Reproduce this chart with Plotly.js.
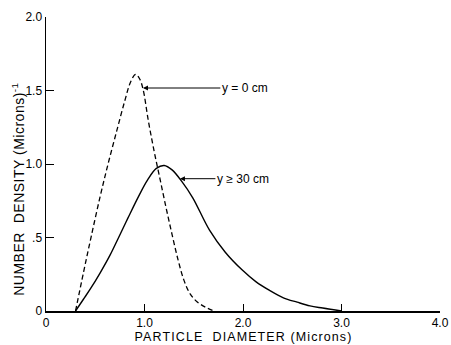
<!DOCTYPE html>
<html>
<head>
<meta charset="utf-8">
<script src="https://cdn.plot.ly/plotly-3.0.1.min.js"></script>
<style>
html,body{margin:0;padding:0;background:#fff;}
#chart{width:451px;height:345px;}
#chart g.annotation[data-index="0"] text{letter-spacing:0.5px;}
#chart g.annotation[data-index="1"] text{letter-spacing:1.1px;}
</style>
</head>
<body>
<div id="chart"></div>
<script>
// Particle diameter (microns) and number density for y = 0 cm (dashed)
const diamY0 = [0.30, 0.38, 0.46, 0.55, 0.63, 0.72, 0.80, 0.86, 0.91, 0.95, 0.985, 1.04, 1.10, 1.16, 1.22, 1.28, 1.34, 1.40, 1.46, 1.53, 1.62, 1.71];
const densY0 = [0.00, 0.26, 0.51, 0.78, 1.00, 1.23, 1.43, 1.56, 1.61, 1.58, 1.51, 1.29, 1.08, 0.89, 0.70, 0.52, 0.35, 0.21, 0.12, 0.065, 0.025, 0.00];
// y >= 30 cm (solid)
const diamY30 = [0.30, 0.38, 0.45, 0.55, 0.65, 0.73, 0.83, 0.94, 1.03, 1.12, 1.20, 1.28, 1.38, 1.49, 1.66, 1.82, 1.99, 2.13, 2.27, 2.41, 2.55, 2.68, 2.81, 3.00];
const densY30 = [0.00, 0.08, 0.15, 0.26, 0.38, 0.49, 0.63, 0.78, 0.89, 0.97, 0.99, 0.96, 0.88, 0.77, 0.55, 0.40, 0.28, 0.20, 0.14, 0.09, 0.06, 0.035, 0.02, 0.00];

const xTickVals = [0, 1, 2, 3, 4];
const xTickText = ['0', '1.0', '2.0', '3.0', '4.0'];
const yTickVals = [0, 0.5, 1, 1.5, 2];
const yTickText = ['0', '.5', '1.0', '1.5', '2.0'];

const xTitle = 'PARTICLE&nbsp;&nbsp;DIAMETER (Microns)';
const yTitle = 'NUMBER&nbsp;&nbsp;DENSITY (Microns)<sup>-1</sup>';
const labelY0 = 'y = 0 cm';
const labelY30 = 'y \u2265 30 cm';

const FONT = 'Liberation Sans, Arial, Helvetica, sans-serif';

const traces = [
  {x: diamY0, y: densY0, mode: 'lines', line: {color: '#000', width: 1.3, dash: '5px,3px', shape: 'spline', smoothing: 1}, hoverinfo: 'skip'},
  {x: diamY30, y: densY30, mode: 'lines', line: {color: '#000', width: 1.4, shape: 'spline', smoothing: 1}, hoverinfo: 'skip'}
];

const layout = {
  width: 451, height: 345,
  margin: {l: 46, r: 11, t: 17, b: 34},
  paper_bgcolor: '#fff', plot_bgcolor: '#fff',
  showlegend: false,
  font: {family: FONT, color: '#000', size: 12},
  xaxis: {
    range: [0, 4], tickvals: xTickVals, ticktext: xTickText,
    showline: true, linecolor: '#000', linewidth: 1.5,
    ticks: 'inside', ticklen: 7, tickcolor: '#000', tickwidth: 1,
    showgrid: false, zeroline: false,
    tickfont: {size: 12, family: FONT}
  },
  yaxis: {
    range: [0, 2], tickvals: yTickVals, ticktext: yTickText,
    showline: true, linecolor: '#000', linewidth: 1.5,
    ticks: 'inside', ticklen: 8, tickcolor: '#000', tickwidth: 1,
    showgrid: false, zeroline: false,
    tickfont: {size: 12, family: FONT}
  },
  annotations: [
    {xref: 'paper', yref: 'paper', x: -0.071, y: 0.415, xanchor: 'center', yanchor: 'middle', textangle: -90, showarrow: false,
     text: yTitle, font: {size: 14, family: FONT}},
    {xref: 'paper', yref: 'paper', x: 0.5, y: -0.088, xanchor: 'center', yanchor: 'middle', showarrow: false,
     text: xTitle, font: {size: 12.5, family: FONT}},
    {x: 0.985, y: 1.517, xref: 'x', yref: 'y', ax: 1.77, ay: 1.517, axref: 'x', ayref: 'y',
     text: labelY0, xanchor: 'left', showarrow: true, arrowhead: 2, arrowsize: 1, arrowwidth: 1, arrowcolor: '#000',
     font: {size: 12, family: FONT}},
    {x: 1.36, y: 0.90, xref: 'x', yref: 'y', ax: 1.72, ay: 0.90, axref: 'x', ayref: 'y',
     text: labelY30, xanchor: 'left', showarrow: true, arrowhead: 2, arrowsize: 1, arrowwidth: 1, arrowcolor: '#000',
     font: {size: 12, family: FONT}}
  ]
};

Plotly.newPlot('chart', traces, layout, {displayModeBar: false, staticPlot: true});
</script>
</body>
</html>
